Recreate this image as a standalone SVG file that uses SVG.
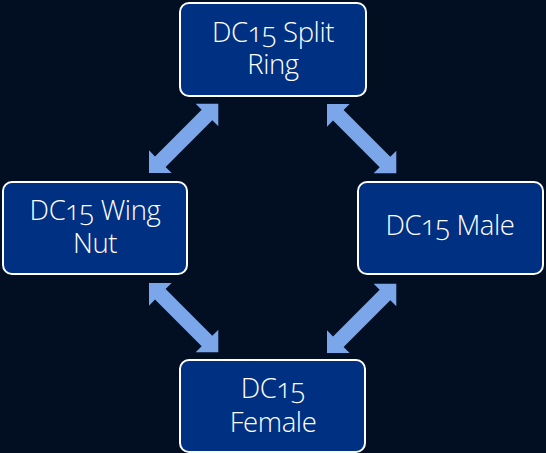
<svg xmlns="http://www.w3.org/2000/svg" xmlns:xlink="http://www.w3.org/1999/xlink" width="546" height="453" viewBox="0 0 546 453">
<style>
.box{fill:#003082;stroke:#ffffff;stroke-width:2}
.lbl{fill:#ffffff;font-family:"Open Sans","Lato","Liberation Sans",sans-serif;font-size:27.5px;font-weight:300;text-anchor:middle;font-feature-settings:"onum" 1;font-variant-numeric:oldstyle-nums;letter-spacing:-0.4px}
.arr{fill:#7ba6ea}
</style>
<defs>
<polygon id="dbl" points="0,0 16,-16 16,-7.5 82,-7.5 82,-16 98,0 82,16 82,7.5 16,7.5 16,16"/>
</defs>
<rect width="546" height="453" fill="#020f22"/>
<g id="connectors" class="arr">
<use xlink:href="#dbl" transform="translate(149,173) rotate(-45)"/>
<use xlink:href="#dbl" transform="translate(327,104) rotate(45)"/>
<use xlink:href="#dbl" transform="translate(149,283) rotate(45)"/>
<use xlink:href="#dbl" transform="translate(327,353) rotate(-45)"/>
</g>
<g id="split-ring">
<rect class="box" x="180" y="3" width="186" height="93" rx="9"/>
<text class="lbl" x="273" y="42">DC15 Split</text>
<text class="lbl" x="273" y="74">Ring</text>
</g>
<g id="wing-nut">
<rect class="box" x="3" y="182" width="184" height="92" rx="9"/>
<text class="lbl" x="95" y="220">DC15 Wing</text>
<text class="lbl" x="95" y="253">Nut</text>
</g>
<g id="male">
<rect class="box" x="358" y="182" width="185" height="92" rx="9"/>
<text class="lbl" x="450" y="235">DC15 Male</text>
</g>
<g id="female">
<rect class="box" x="180" y="360" width="185" height="92" rx="9"/>
<text class="lbl" x="273" y="398">DC15</text>
<text class="lbl" x="273" y="432">Female</text>
</g>
</svg>
